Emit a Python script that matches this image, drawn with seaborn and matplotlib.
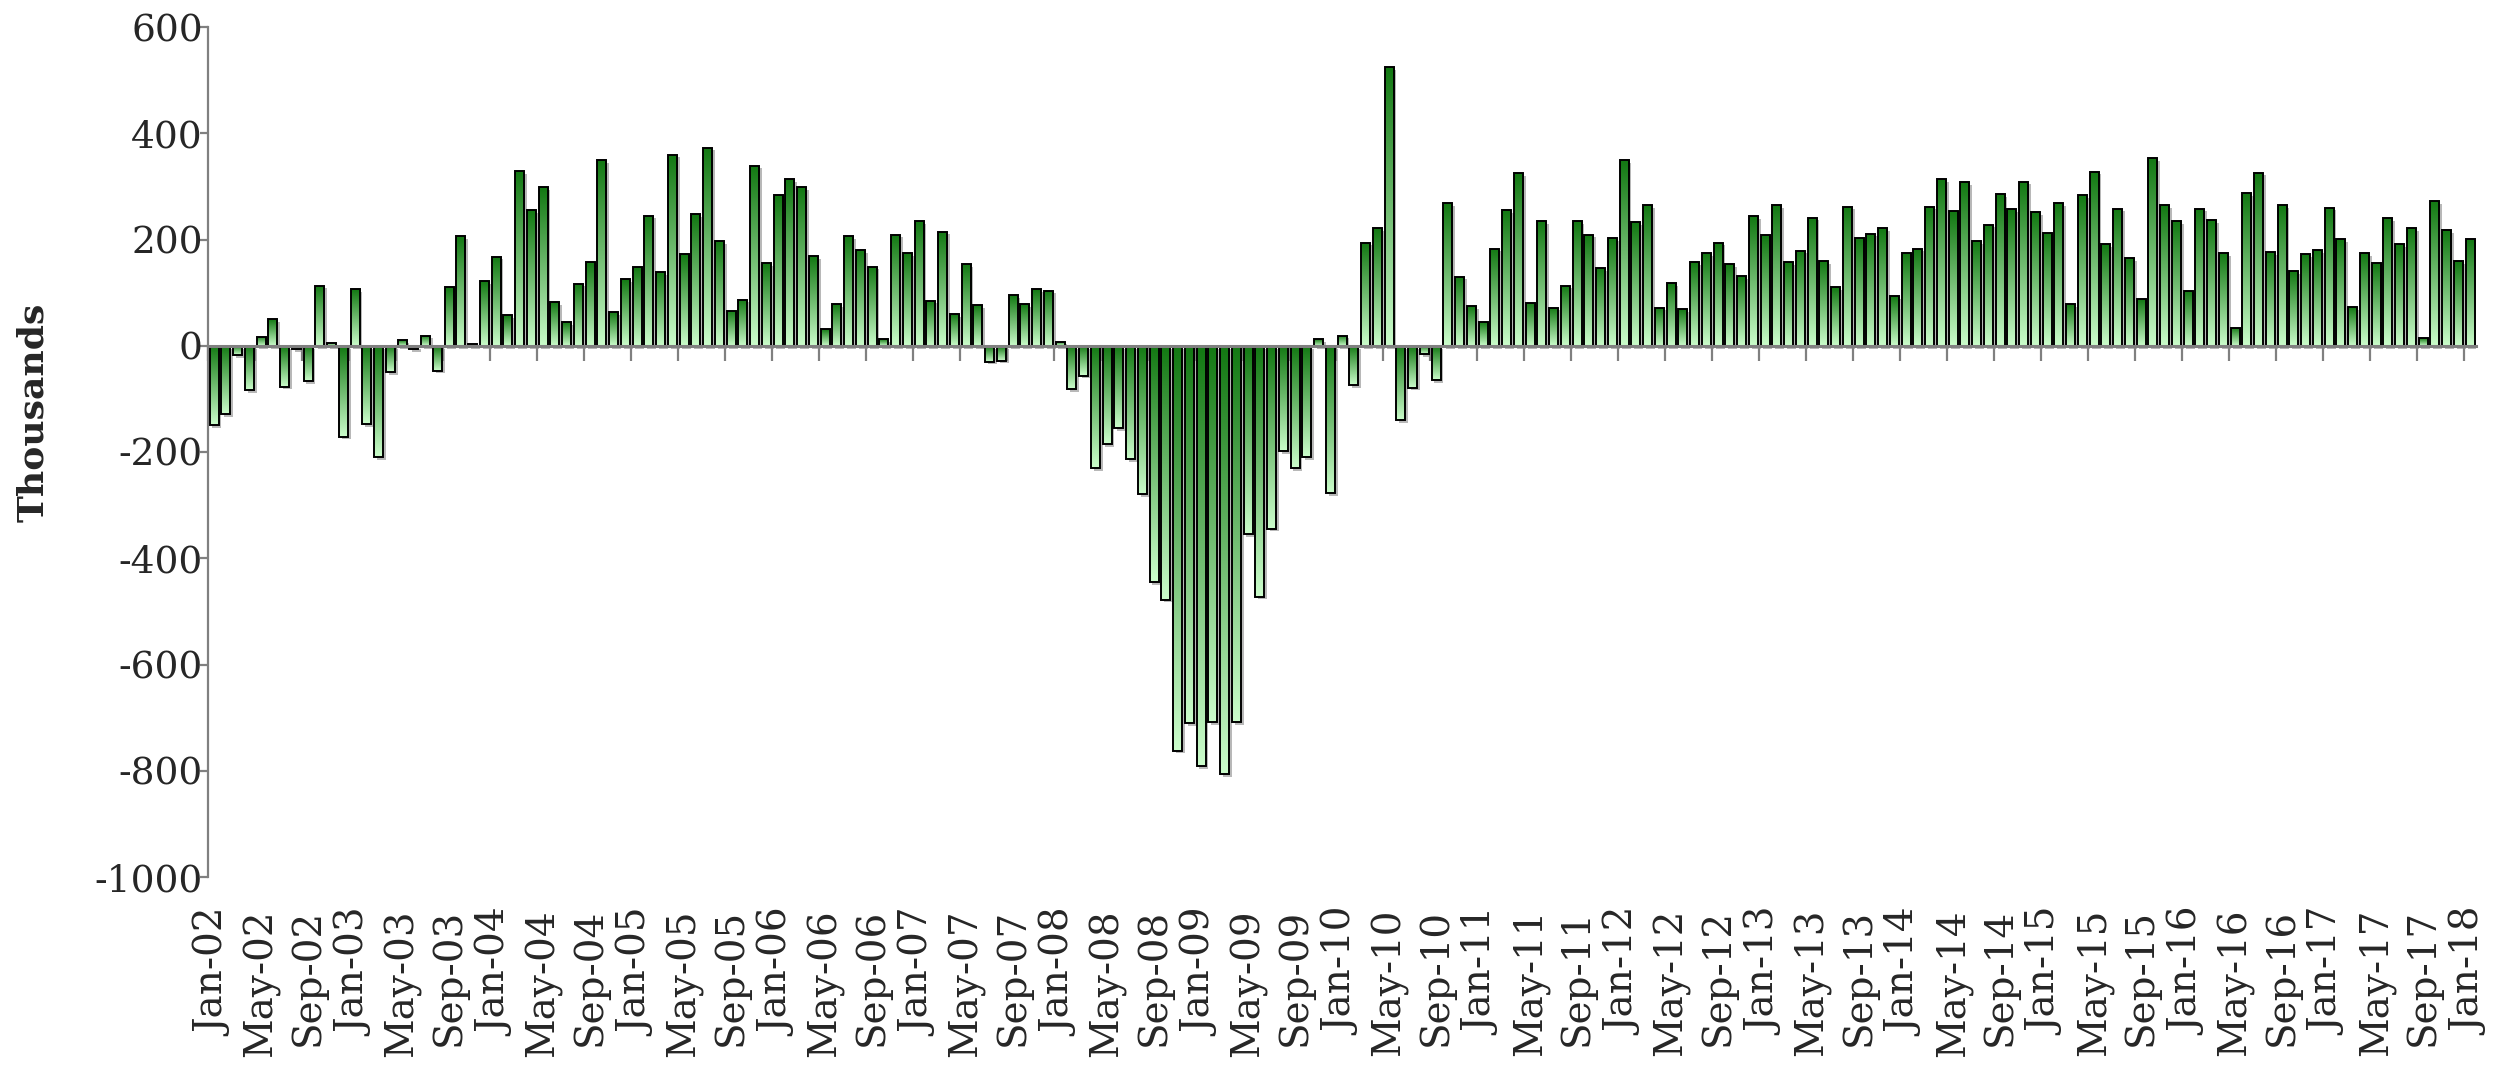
import numpy as np
import pandas as pd
import seaborn as sns
import matplotlib.pyplot as plt
import matplotlib.patheffects as pe
from matplotlib.colors import LinearSegmentedColormap

# monthly change, Jan-02 .. Jan-18 (thousands)
months = pd.date_range("2002-01-01", "2018-01-01", freq="MS").strftime("%b-%y").tolist()

jobs = [
    -150, -129, -18, -84, 17, 50, -77, -7, -67, 113, 6, -171,          # 2002
    107, -147, -209, -49, 11, -7, 19, -47, 111, 206, 4, 121,           # 2003
    168, 58, 329, 255, 299, 82, 45, 117, 157, 350, 63, 126,            # 2004
    148, 245, 138, 360, 173, 248, 373, 197, 66, 87, 339, 155,          # 2005
    283, 313, 298, 169, 31, 79, 207, 180, 149, 12, 209, 174,           # 2006
    235, 85, 215, 60, 153, 77, -30, -28, 96, 78, 106, 104,             # 2007
    8, -81, -56, -230, -185, -155, -214, -279, -445, -478, -762, -711, # 2008
    -791, -708, -806, -708, -355, -472, -344, -198, -230, -209, 12, -278,  # 2009
    19, -74, 194, 222, 525, -140, -79, -16, -64, 269, 130, 74,         # 2010
    44, 183, 255, 325, 81, 235, 72, 113, 234, 209, 146, 202,           # 2011
    350, 233, 265, 72, 118, 69, 157, 174, 194, 154, 131, 244,          # 2012
    208, 265, 157, 179, 241, 159, 111, 262, 202, 211, 222, 94,         # 2013
    175, 183, 262, 313, 253, 308, 197, 228, 286, 257, 309, 252,        # 2014
    213, 269, 79, 283, 328, 192, 258, 165, 88, 353, 265, 235,          # 2015
    104, 258, 237, 175, 34, 287, 326, 176, 265, 141, 173, 180,         # 2016
    260, 201, 73, 174, 155, 240, 191, 222, 14, 272, 217, 160,          # 2017
    201,                                                               # 2018
]

y_ticks = [-1000, -800, -600, -400, -200, 0, 200, 400, 600]

df = pd.DataFrame({"month": months, "jobs": jobs})

sns.set_theme(style="white")
plt.rcParams["font.family"] = ["DejaVu Serif"]
plt.rcParams["axes.unicode_minus"] = False

W, H = 2506, 1068
fig = plt.figure(figsize=(W / 100, H / 100), dpi=100)
ax = fig.add_axes([208.3 / W, 1 - 877 / H, (2476 - 208.3) / W, 850 / H])

# shadow layer
sns.barplot(data=df, x="month", y="jobs", ax=ax, width=0.77, color="white",
            errorbar=None, saturation=1)
bars = list(ax.patches)
for p in bars:
    p.set_facecolor("none")
    p.set_edgecolor("none")
    p.set_zorder(1)
    p.set_path_effects([pe.SimplePatchShadow(offset=(2, -2), shadow_rgbFace="#8a8a8a", alpha=0.6)])

# gradient fill, dark at top, light at bottom
cmap = LinearSegmentedColormap.from_list("grn", ["#cbfdcb", "#127812"])
grad = np.linspace(0, 1, 256).reshape(-1, 1)
for p in bars:
    x0, y0, w, h = p.get_x(), p.get_y(), p.get_width(), p.get_height()
    im = ax.imshow(grad, extent=[x0, x0 + w, min(y0, y0 + h), max(y0, y0 + h)],
                   origin="lower", aspect="auto", cmap=cmap, zorder=2,
                   interpolation="bilinear")
    im.set_clip_path(p)

# outlines
n0 = len(ax.patches)
sns.barplot(data=df, x="month", y="jobs", ax=ax, width=0.77, fill=False, color="black",
            errorbar=None, linewidth=1.4)
for p in ax.patches[n0:]:
    p.set_edgecolor("black")
    p.set_zorder(3)

ax.set_xlim(-0.5, 192.5)
ax.set_ylim(-1000, 600)
ax.set_xlabel("")

grey = "#808080"
for s in ["top", "right"]:
    ax.spines[s].set_visible(False)
ax.spines["left"].set_color(grey)
ax.spines["left"].set_linewidth(1.6)
ax.spines["bottom"].set_position(("data", 0))
ax.spines["bottom"].set_color(grey)
ax.spines["bottom"].set_linewidth(2.2)
ax.spines["bottom"].set_zorder(4)

ax.set_xticks(np.arange(-0.5, 192, 4))
ax.set_xticklabels([])
ax.tick_params(axis="x", bottom=True, direction="out", length=11, width=1.6, color=grey)

ax.set_yticks(y_ticks)
ax.set_yticklabels([str(v) for v in y_ticks])
ax.tick_params(axis="y", left=True, direction="out", length=6, width=1.6, color=grey,
               labelsize=27, pad=-2)

sec = ax.secondary_xaxis("bottom")
sec.set_xticks(np.arange(0, 193, 4), months[::4])
sec.tick_params(length=0, pad=23, labelrotation=90, labelsize=28)
sec.spines["bottom"].set_visible(False)

ax.set_ylabel("Thousands", fontsize=26, fontweight="bold")
ax.yaxis.set_label_coords(-0.0697, 0.547)

fig.savefig("out.png", dpi=100)
